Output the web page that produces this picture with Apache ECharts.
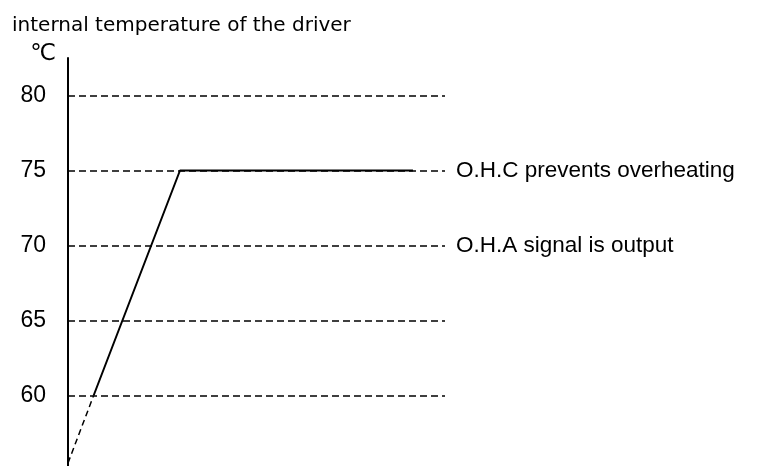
<!DOCTYPE html>
<html>
<head>
<meta charset="utf-8">
<script src="https://cdn.jsdelivr.net/npm/echarts@6/dist/echarts.min.js"></script>
<style>
	html, body { margin: 0; padding: 0; background: #fff; }
	#main { width: 765px; height: 466px; }
</style>
</head>
<body>
<div id="main"></div>
<script>
// 刻度
let y_ticks = [60, 65, 70, 75, 80];
// 温度曲线 (x 为相对时间 0~100)
let dash_x = [0, 6.8];
let dash_y = [55.5, 60];
let solid_x = [6.8, 29.7, 91.5];
let solid_y = [60, 75, 75];
// 右侧说明
let note_values = [75, 70];
let note_texts = ['O.H.C prevents overheating', 'O.H.A signal is output'];

let font = '"Liberation Sans", sans-serif';

let chart = echarts.init(document.getElementById('main'));

let grid_lines = y_ticks.map((v) => {
	let i = note_values.indexOf(v);
	return {
		yAxis: v,
		label: {
			show: i >= 0,
			formatter: i >= 0 ? note_texts[i] : '',
		},
	};
});

let option = {
	animation: false,
	title: {
		text: 'internal temperature of the driver',
		left: 7,
		top: 11,
		textStyle: {
			fontSize: 20,
			fontWeight: 'normal',
			color: '#000',
			fontFamily: '"DejaVu Sans", sans-serif',
		},
	},
	graphic: [
		{
			type: 'text',
			right: 765 - 56,
			top: 43,
			style: {
				text: '℃',
				fontSize: 23,
				fill: '#000',
				fontFamily: '"DejaVu Sans", sans-serif',
			},
		},
	],
	grid: {
		left: 68,
		right: 320,
		top: 58,
		bottom: 0,
	},
	xAxis: {
		type: 'value',
		min: 0,
		max: 100,
		show: false,
	},
	yAxis: {
		type: 'value',
		min: 55.3,
		max: 82.5,
		axisLine: {
			show: true,
			lineStyle: { color: '#000', width: 2 },
		},
		axisTick: { show: false },
		splitLine: { show: false },
		axisLabel: {
			customValues: y_ticks,
			margin: 22,
			fontSize: 23,
			color: '#000',
			fontFamily: font,
		},
	},
	series: [
		{
			// 虚线网格和说明文字
			type: 'line',
			data: [],
			markLine: {
				silent: true,
				symbol: ['none', 'none'],
				lineStyle: { color: '#000', width: 1.5, type: [7, 4] },
				label: {
					position: 'end',
					distance: 11,
					fontSize: 22.5,
					color: '#000',
					fontFamily: font,
				},
				data: grid_lines,
			},
		},
		{
			type: 'line',
			symbol: 'none',
			data: dash_x.map((x, i) => [x, dash_y[i]]),
			lineStyle: { color: '#000', width: 1.5, type: [6, 4] },
		},
		{
			type: 'line',
			symbol: 'none',
			data: solid_x.map((x, i) => [x, solid_y[i]]),
			lineStyle: { color: '#000', width: 2 },
		},
	],
};

chart.setOption(option);
</script>
</body>
</html>
